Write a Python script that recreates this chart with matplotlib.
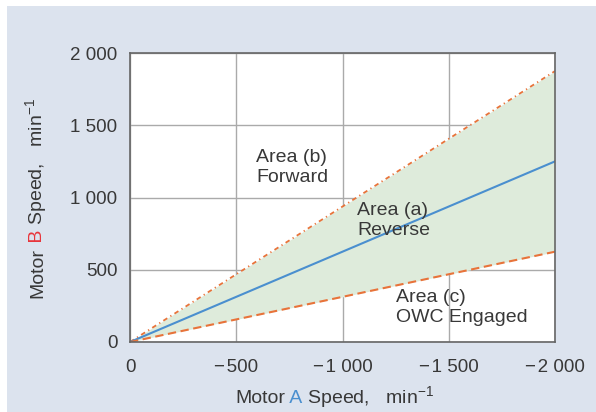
import matplotlib.pyplot as plt
import matplotlib.transforms as mtransforms
from matplotlib.patches import Rectangle

plt.rcParams['font.family'] = ['Liberation Sans', 'DejaVu Sans']
plt.rcParams['mathtext.fontset'] = 'custom'
plt.rcParams['mathtext.rm'] = 'Liberation Sans'
plt.rcParams['mathtext.it'] = 'Liberation Sans'

# motor A speed (x) and boundary speeds of motor B (y), min^-1
motor_a = [0, -2000]
forward_limit = [0, 1875]
reverse_line = [0, 1250]
owc_limit = [0, 625]

x_ticks = [0, -500, -1000, -1500, -2000]
x_tick_labels = ["0", "\u2212\u200a500", "\u2212\u200a1 000", "\u2212\u200a1 500", "\u2212\u200a2 000"]
y_ticks = [0, 500, 1000, 1500, 2000]
y_tick_labels = ["0", "500", "1 000", "1 500", "2 000"]

area_labels = ["Area (b)\nForward", "Area (a)\nReverse", "Area (c)\nOWC Engaged"]
area_pos = [(-593, 1336), (-1068, 969), (-1252, 367)]

TXT = '#383838'
ORANGE = '#e8733a'
BLUE = '#4a8fcf'
RED = '#e8343a'

fig = plt.figure(figsize=(5.96, 4.12), dpi=100)
fig.patch.set_facecolor('white')
fig.patches.append(Rectangle((7 / 596, 0), 1, 406 / 412, transform=fig.transFigure,
                             facecolor='#dce3ee', edgecolor='none', zorder=-5))

ax = fig.add_axes([130 / 596, 70 / 412, 425 / 596, 289 / 412])
ax.set_zorder(2)
ax.set_facecolor('white')

ax.fill_between(motor_a, owc_limit, forward_limit, color='#deebdb', lw=0, zorder=1)
ax.plot(motor_a, forward_limit, color=ORANGE, lw=1.3,
        linestyle=(0, (2.6, 2.0, 0.7, 2.0)), zorder=3)
ax.plot(motor_a, reverse_line, color=BLUE, lw=1.5, zorder=3)
ax.plot(motor_a, owc_limit, color=ORANGE, lw=1.5,
        linestyle=(0, (4.0, 2.2)), zorder=3)

for s, (x, y) in zip(area_labels, area_pos):
    ax.text(x, y, s, ha='left', va='top', fontsize=14, color=TXT, zorder=4)

ax.set_xlim(0, -2000)
ax.set_ylim(0, 2000)
ax.set_xticks(x_ticks)
ax.set_xticklabels(x_tick_labels)
ax.set_yticks(y_ticks)
ax.set_yticklabels(y_tick_labels)
ax.tick_params(length=0, labelsize=13.5, labelcolor=TXT)
ax.tick_params(axis='x', pad=12)
ax.tick_params(axis='y', pad=9)
ax.grid(True, color='#aaaaaa', lw=1, zorder=0)
ax.set_axisbelow(True)
for sp in ax.spines.values():
    sp.set_color('#666666')
    sp.set_linewidth(1.2)
    sp.set_zorder(5)


def colored_label(x, y, pieces, rotation=0):
    # lays out text pieces one after another, in display pixels
    renderer = fig.canvas.get_renderer()
    for s, c in pieces:
        t = fig.text(x, y, s, color=c, fontsize=14, rotation=rotation,
                     rotation_mode='anchor', ha='left', va='baseline',
                     transform=mtransforms.IdentityTransform())
        bb = t.get_window_extent(renderer)
        if rotation == 0:
            x = bb.x1
        else:
            y = bb.y1


fig.canvas.draw()
colored_label(235, 9, [("Motor", TXT), (" A", BLUE), (" Speed,   min$^{\u22121}$", TXT)])
colored_label(42, 114, [("Motor", TXT), (" B", RED), (" Speed,   min$^{\u22121}$", TXT)],
              rotation=90)

fig.savefig('out.png', dpi=100)
